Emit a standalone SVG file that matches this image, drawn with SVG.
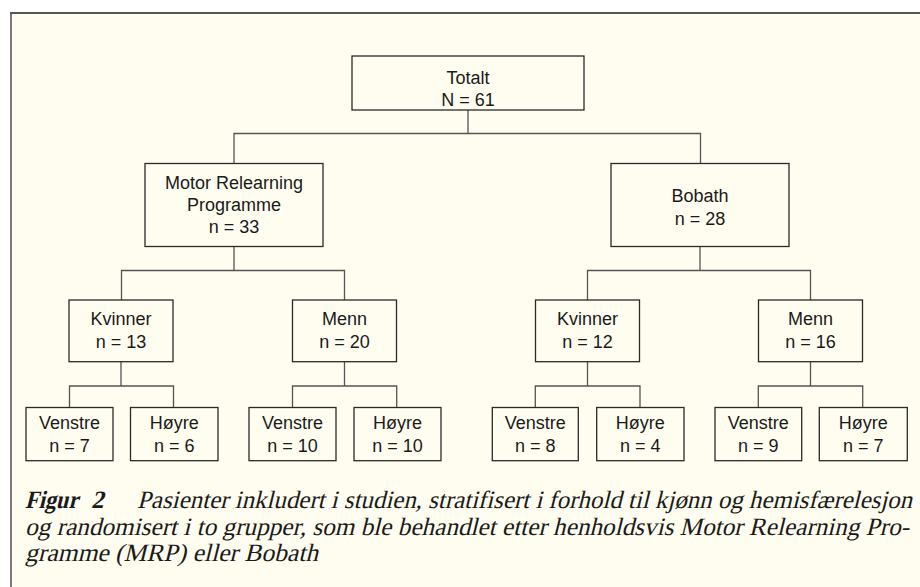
<svg xmlns="http://www.w3.org/2000/svg" width="920" height="587" viewBox="0 0 920 587">
<style>
.bx{fill:none;stroke:#2a2a2a;stroke-width:1.3}
.cn{fill:none;stroke:#555;stroke-width:1.3}
.t{font-family:"Liberation Sans",Arial,sans-serif;font-size:18px;fill:#1a1a1a;text-anchor:middle}
.cap{font-family:"Liberation Serif","Times New Roman",serif;font-size:25px;fill:#1a1a1a;font-style:normal}
.capb{font-weight:bold}
</style>
<rect x="0" y="0" width="920" height="587" fill="#ffffff"/>
<rect x="11" y="13" width="909" height="574" fill="#fffdf0"/>
<line x1="11" y1="13" x2="11" y2="587" stroke="#7a7a7a" stroke-width="2"/>
<line x1="10" y1="13" x2="920" y2="13" stroke="#555" stroke-width="2"/>
<g id="connectors">
<path class="cn" d="M468 110V133.5M234 163.5V133.5H700.5V163.5"/>
<path class="cn" d="M234 246.5V270.5M121.5 300V270.5H344.5V300"/>
<path class="cn" d="M700 246.5V270.5M587.5 300V270.5H810.5V300"/>
<path class="cn" d="M121 361.7V386M69.5 407.5V386H173.5V407.5"/>
<path class="cn" d="M344.5 361.7V386M292.5 407.5V386H396.7V407.5"/>
<path class="cn" d="M587.5 361.7V386M535.3 407.5V386H640V407.5"/>
<path class="cn" d="M810.5 361.7V386M758.3 407.5V386H862.7V407.5"/>
</g>
<g id="totalt"><rect class="bx" x="352" y="56" width="232" height="54"/><text class="t" x="468" y="84">Totalt</text><text class="t" x="468" y="106">N = 61</text></g>
<g id="mrp"><rect class="bx" x="145" y="163.5" width="178" height="83"/><text class="t" x="234" y="189">Motor Relearning</text><text class="t" x="234" y="211">Programme</text><text class="t" x="234" y="233.3">n = 33</text></g>
<g id="bobath"><rect class="bx" x="611" y="163.5" width="178" height="83"/><text class="t" x="700" y="201.7">Bobath</text><text class="t" x="700" y="225">n = 28</text></g>
<g id="kvinner1"><rect class="bx" x="69" y="300" width="104" height="61.7"/><text class="t" x="121" y="325">Kvinner</text><text class="t" x="121" y="348.3">n = 13</text></g>
<g id="menn1"><rect class="bx" x="292.5" y="300" width="104" height="61.7"/><text class="t" x="344.5" y="325">Menn</text><text class="t" x="344.5" y="348.3">n = 20</text></g>
<g id="kvinner2"><rect class="bx" x="535.5" y="300" width="104" height="61.7"/><text class="t" x="587.5" y="325">Kvinner</text><text class="t" x="587.5" y="348.3">n = 12</text></g>
<g id="menn2"><rect class="bx" x="758.5" y="300" width="104" height="61.7"/><text class="t" x="810.5" y="325">Menn</text><text class="t" x="810.5" y="348.3">n = 16</text></g>
<g id="k1v"><rect class="bx" x="26" y="407.5" width="87" height="53.2"/><text class="t" x="69.5" y="429.3">Venstre</text><text class="t" x="69.5" y="452.3">n = 7</text></g>
<g id="k1h"><rect class="bx" x="130.5" y="407.5" width="87.5" height="53.2"/><text class="t" x="174.2" y="429.3">Høyre</text><text class="t" x="174.2" y="452.3">n = 6</text></g>
<g id="m1v"><rect class="bx" x="249" y="407.5" width="87" height="53.2"/><text class="t" x="292.5" y="429.3">Venstre</text><text class="t" x="292.5" y="452.3">n = 10</text></g>
<g id="m1h"><rect class="bx" x="354" y="407.5" width="87" height="53.2"/><text class="t" x="397.5" y="429.3">Høyre</text><text class="t" x="397.5" y="452.3">n = 10</text></g>
<g id="k2v"><rect class="bx" x="492.3" y="407.5" width="86" height="53.2"/><text class="t" x="535.3" y="429.3">Venstre</text><text class="t" x="535.3" y="452.3">n = 8</text></g>
<g id="k2h"><rect class="bx" x="596.7" y="407.5" width="87.3" height="53.2"/><text class="t" x="640.3" y="429.3">Høyre</text><text class="t" x="640.3" y="452.3">n = 4</text></g>
<g id="m2v"><rect class="bx" x="715" y="407.5" width="86.7" height="53.2"/><text class="t" x="758.3" y="429.3">Venstre</text><text class="t" x="758.3" y="452.3">n = 9</text></g>
<g id="m2h"><rect class="bx" x="819.3" y="407.5" width="88" height="53.2"/><text class="t" x="863.3" y="429.3">Høyre</text><text class="t" x="863.3" y="452.3">n = 7</text></g>
<g id="caption">
<g transform="translate(25,508) skewX(-14)"><text class="cap capb" x="0" y="0" textLength="53" lengthAdjust="spacingAndGlyphs">Figur</text></g>
<g transform="translate(91,508) skewX(-14)"><text class="cap capb" x="0" y="0">2</text></g>
<g transform="translate(137,508) skewX(-14)"><text class="cap" x="0" y="0" textLength="775" lengthAdjust="spacingAndGlyphs">Pasienter inkludert i studien, stratifisert i forhold til kjønn og hemisfærelesjon</text></g>
<g transform="translate(25,535) skewX(-14)"><text class="cap" x="0" y="0" textLength="884" lengthAdjust="spacingAndGlyphs">og randomisert i to grupper, som ble behandlet etter henholdsvis Motor Relearning Pro-</text></g>
<g transform="translate(25,561) skewX(-14)"><text class="cap" x="0" y="0" textLength="293" lengthAdjust="spacingAndGlyphs">gramme (MRP) eller Bobath</text></g>
</g>
</svg>
